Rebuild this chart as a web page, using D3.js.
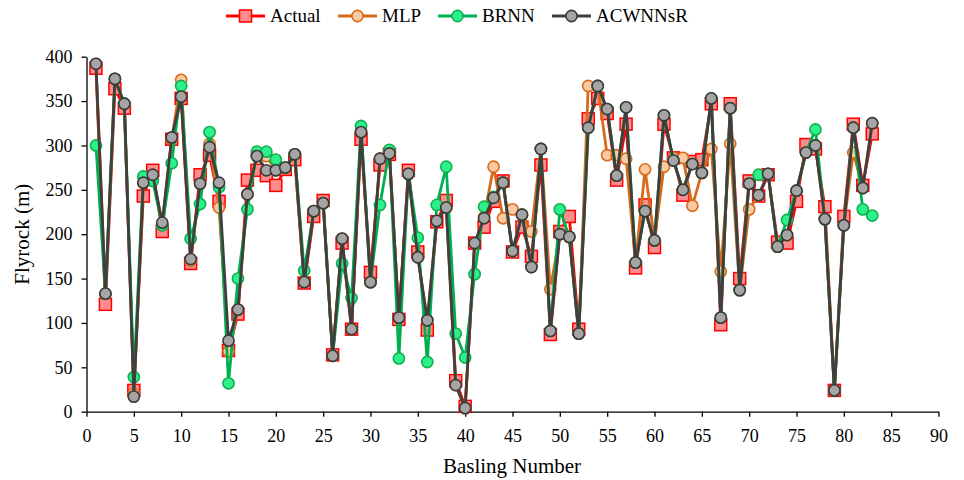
<!DOCTYPE html>
<html>
<head>
<meta charset="utf-8">
<script src="https://cdn.jsdelivr.net/npm/d3@7"></script>
<style>
  html, body { margin: 0; padding: 0; background: #fff; }
  svg { display: block; }
  text { font-family: "Liberation Serif", "Times New Roman", serif; fill: #000; }
</style>
</head>
<body>
<svg id="chart" width="964" height="480"></svg>
<script>
// ---- Data ----
const blastNumbers = d3.range(1, 84);
const actual = [387,121,364,342,24,243,272,203,307,353,167,267,289,237,69,110,261,272,266,255,273,284,145,220,238,64,190,93,307,157,278,290,104,272,180,92,214,238,35,6,190,208,237,260,180,208,175,278,87,203,220,93,330,353,336,261,324,162,233,185,324,286,244,282,284,347,98,347,150,260,243,267,191,190,237,301,296,231,24,220,324,255,313];
const mlp = [392,133,375,347,20,258,265,210,307,374,170,257,302,230,68,115,245,288,288,272,275,290,146,226,235,63,195,93,315,146,285,291,106,268,174,103,215,230,30,4,190,219,276,218,228,222,203,296,138,200,197,88,367,367,289,289,285,168,273,193,276,286,286,232,269,296,158,302,137,228,244,268,186,199,249,292,300,217,24,210,292,252,325];
const brnn = [300,133,375,347,39,265,260,210,280,367,195,234,315,253,32,150,228,293,293,284,275,290,159,226,235,63,167,128,322,146,233,295,60,268,196,56,233,276,88,61,155,231,242,258,181,222,163,296,91,228,197,88,320,367,341,266,343,168,226,193,334,283,250,279,269,353,106,342,137,257,267,268,186,216,249,292,318,217,24,210,320,228,221];
const acwnnsr = [392,133,375,347,17,258,267,213,309,355,172,257,298,258,80,115,245,288,272,272,275,290,146,226,235,63,195,93,315,146,285,291,106,268,174,103,215,230,30,4,190,218,241,258,181,222,163,296,91,200,197,88,320,367,341,266,343,168,226,193,334,283,250,279,269,353,106,342,137,257,244,268,186,199,249,292,300,217,24,210,320,252,325];
const xTicks = d3.range(0, 91, 5);
const yTicks = d3.range(0, 401, 50);
const seriesNames = ["Actual", "MLP", "BRNN", "ACWNNsR"];

// ---- Layout ----
const svg = d3.select("#chart");
const x = d3.scaleLinear().domain([0, 90]).range([86.5, 938.5]);
const y = d3.scaleLinear().domain([0, 400]).range([411.7, 56.7]);

const styles = {
  "Actual":  { line: "#ff0000", fill: "#ff8c8c", stroke: "#ff0000", shape: "square" },
  "MLP":     { line: "#d86a1c", fill: "#fbc9a1", stroke: "#d86a1c", shape: "circle" },
  "BRNN":    { line: "#00b050", fill: "#2ef08a", stroke: "#10b050", shape: "circle" },
  "ACWNNsR": { line: "#3f3f3f", fill: "#a5a5a5", stroke: "#3a3a3a", shape: "circle" }
};
const seriesData = { "Actual": actual, "MLP": mlp, "BRNN": brnn, "ACWNNsR": acwnnsr };

// ---- Axes ----
const xAxis = svg.append("g")
  .attr("transform", `translate(0,${y(0)})`)
  .call(d3.axisBottom(x).tickValues(xTicks).tickSize(5).tickSizeOuter(0).tickPadding(13));
const yAxis = svg.append("g")
  .attr("transform", `translate(${x(0)},0)`)
  .call(d3.axisLeft(y).tickValues(yTicks).tickSize(5).tickSizeOuter(0).tickPadding(9));
[xAxis, yAxis].forEach(a => {
  a.selectAll("path.domain").attr("stroke", "#000").attr("stroke-width", 1.3);
  a.selectAll(".tick line").attr("stroke", "#000").attr("stroke-width", 1.3);
  a.selectAll(".tick text").style("font-family", '"Liberation Serif", serif').style("font-size", "18px").attr("fill", "#000");
});

// ---- Axis titles ----
svg.append("text")
  .attr("x", 512).attr("y", 473)
  .attr("text-anchor", "middle")
  .style("font-size", "21px")
  .text("Basling Number");
svg.append("text")
  .attr("transform", `translate(29,${(y(0) + y(400)) / 2}) rotate(-90)`)
  .attr("text-anchor", "middle")
  .style("font-size", "21px")
  .text("Flyrock (m)");

// ---- Series ----
const line = d3.line().x((d, i) => x(blastNumbers[i])).y(d => y(d));

function drawMarker(g, shape, cx, cy, st) {
  if (shape === "square") {
    g.append("rect")
      .attr("x", cx - 6).attr("y", cy - 6)
      .attr("width", 12).attr("height", 12)
      .attr("fill", st.fill).attr("stroke", st.stroke).attr("stroke-width", 1.5);
  } else {
    g.append("circle")
      .attr("cx", cx).attr("cy", cy).attr("r", 5.6)
      .attr("fill", st.fill).attr("stroke", st.stroke).attr("stroke-width", 1.6);
  }
}

seriesNames.forEach(name => {
  const st = styles[name];
  const vals = seriesData[name];
  const g = svg.append("g").attr("class", "series");
  g.append("path")
    .datum(vals)
    .attr("d", line)
    .attr("fill", "none")
    .attr("stroke", st.line)
    .attr("stroke-width", 2.8)
    .attr("stroke-linejoin", "round");
  vals.forEach((v, i) => drawMarker(g, st.shape, x(blastNumbers[i]), y(v), st));
});

// ---- Legend ----
const legendItems = [
  { name: "Actual", x0: 226 },
  { name: "MLP", x0: 338 },
  { name: "BRNN", x0: 438 },
  { name: "ACWNNsR", x0: 552 }
];
const ly = 16;
legendItems.forEach(it => {
  const st = styles[it.name];
  const g = svg.append("g");
  g.append("line")
    .attr("x1", it.x0).attr("x2", it.x0 + 39)
    .attr("y1", ly).attr("y2", ly)
    .attr("stroke", st.line).attr("stroke-width", 2.8);
  drawMarker(g, st.shape, it.x0 + 19.5, ly, st);
  g.append("text")
    .attr("x", it.x0 + 44).attr("y", ly + 6)
    .style("font-size", "19px")
    .text(it.name);
});
</script>
</body>
</html>
